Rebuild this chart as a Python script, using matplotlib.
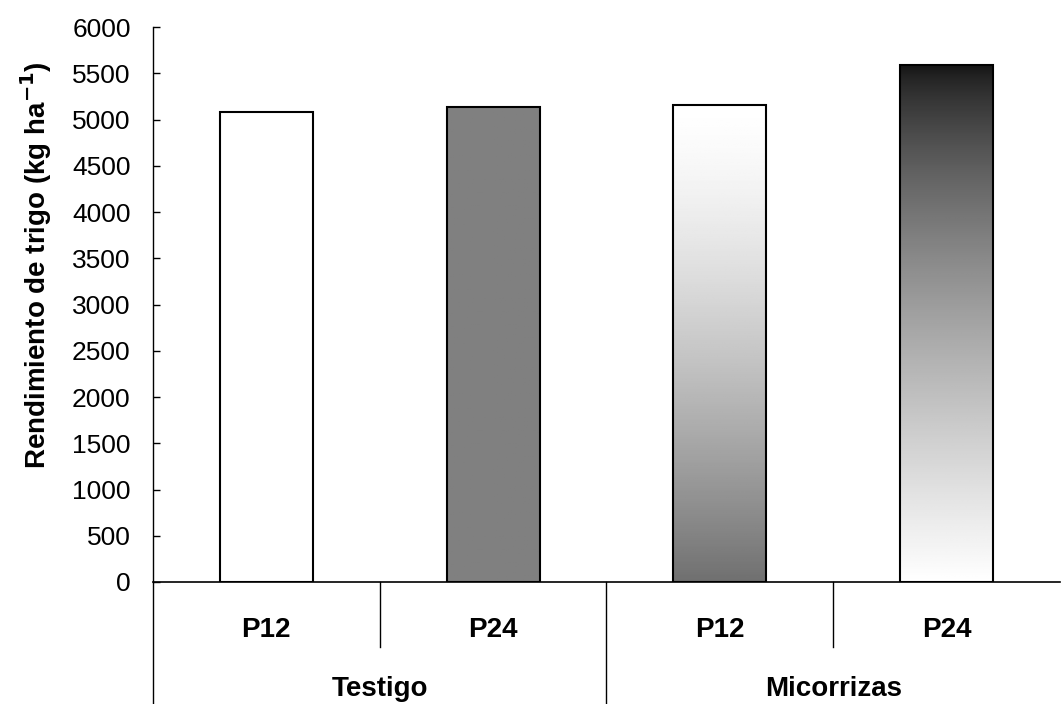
import numpy as np
import matplotlib.pyplot as plt
from matplotlib.patches import Rectangle

plt.rcParams['font.family'] = ['Liberation Sans', 'DejaVu Sans']

# datos
tratamientos = ['P12', 'P24', 'P12', 'P24']
grupos = ['Testigo', 'Micorrizas']
rendimiento = [5080, 5140, 5160, 5590]
yticks = [0, 500, 1000, 1500, 2000, 2500, 3000, 3500, 4000, 4500, 5000, 5500, 6000]

fig = plt.figure(figsize=(10.62, 7.04), dpi=100)
ax = fig.add_axes([0.144, 0.1733, 0.854, 0.7883])

x = np.arange(len(rendimiento))
ancho = 0.41
t = np.linspace(0, 1, 256)
# relleno de cada barra, de arriba hacia abajo
rellenos = [np.ones_like(t),
            np.full_like(t, 0.5),
            1 - 0.56 * t ** 1.4,
            0.07 + 0.93 * t ** 0.7]

for i, (xi, val) in enumerate(zip(x, rendimiento)):
    rect = Rectangle((xi - ancho / 2, 0), ancho, val, facecolor='none',
                     edgecolor='black', linewidth=1.5, zorder=3)
    ax.add_patch(rect)
    grad = rellenos[i].reshape(-1, 1)
    im = ax.imshow(grad, cmap='gray', vmin=0, vmax=1, aspect='auto',
                   extent=(xi - ancho / 2, xi + ancho / 2, 0, val),
                   origin='upper', zorder=2)
    im.set_clip_path(rect)

ax.set_xlim(-0.5, 3.5)
ax.set_ylim(0, 6000)
ax.set_yticks(yticks)
ax.tick_params(axis='y', labelsize=19, direction='in', length=5, width=1, pad=16)
ax.set_xticks([])
ax.set_ylabel('Rendimiento de trigo (kg ha$^{\\mathbf{-1}}$)', fontsize=20,
              fontweight='bold')
ax.yaxis.set_label_coords(-0.109, 0.571)

for s in ['top', 'right']:
    ax.spines[s].set_visible(False)
ax.spines['left'].set_linewidth(1)
ax.spines['bottom'].set_linewidth(1.2)

# eje x de dos niveles
tr = ax.get_xaxis_transform()
for xs in [-0.5, 1.5]:
    ax.plot([xs, xs], [0, -0.23], color='black', lw=1, transform=tr, clip_on=False)
for xs in [0.5, 2.5]:
    ax.plot([xs, xs], [0, -0.117], color='black', lw=1, transform=tr, clip_on=False)
for xi, tt in zip(x, tratamientos):
    ax.text(xi, -0.087, tt, transform=tr, ha='center', va='center',
            fontsize=20, fontweight='bold')
for j, g in enumerate(grupos):
    ax.text(0.5 + 2 * j, -0.193, g, transform=tr, ha='center', va='center',
            fontsize=20, fontweight='bold')

fig.savefig('out.png', dpi=100)
